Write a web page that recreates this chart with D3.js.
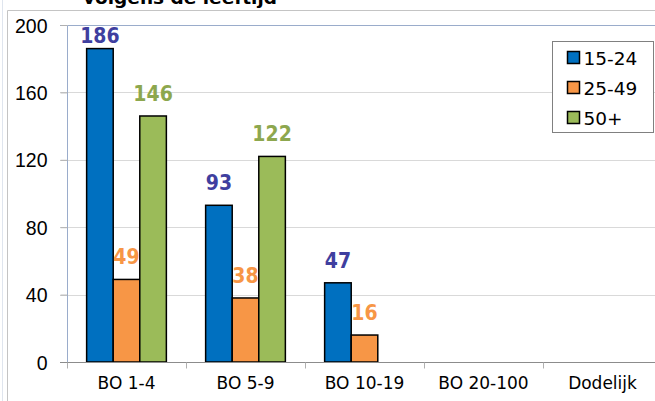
<!DOCTYPE html>
<html>
<head>
<meta charset="utf-8">
<script src="https://cdn.jsdelivr.net/npm/d3@7"></script>
<style>
  body { margin: 0; background: #fff; }
  svg { display: block; }
  .tick text { font-family: "Liberation Sans", Arial, sans-serif; }
</style>
</head>
<body>
<svg width="655" height="401"></svg>
<script>
// categories and series
var categories = ["BO 1-4", "BO 5-9", "BO 10-19", "BO 20-100", "Dodelijk"];
var seriesNames = ["15-24", "25-49", "50+"];
var age1524 = [186, 93, 47, null, null];
var age2549 = [49, 38, 16, null, null];
var age50 = [146, 122, null, null, null];
var yTicks = [0, 40, 80, 120, 160, 200];

var fills = ["#0070C0", "#F79646", "#9BBB59"];
var labelColours = ["#3F3F9F", "#F79646", "#8DA74E"];

var rows = categories.map(function(c, i) {
  return { cat: c, values: [age1524[i], age2549[i], age50[i]] };
});

var svg = d3.select("svg");

// chart frame
svg.append("line").attr("x1", 2.5).attr("x2", 2.5).attr("y1", 0).attr("y2", 401)
  .attr("stroke", "#dfe5ee");
svg.append("path").attr("d", "M7.5,401V10.5H655")
  .attr("fill", "none").attr("stroke", "#c4c4c4");

// title (mostly cut off at the top)
svg.append("text")
  .attr("x", 180).attr("y", 4)
  .attr("text-anchor", "middle")
  .style("font-family", "DejaVu Sans, sans-serif")
  .style("font-weight", "bold")
  .style("font-size", "18.5px")
  .text("volgens de leeftijd");

var pLeft = 67, pTop = 25, pRight = 662, pBottom = 362;

var x = d3.scaleBand().domain(categories).range([pLeft, pRight]);
var bw = x.bandwidth();
var x1 = d3.scaleBand().domain(seriesNames)
  .range([bw * 0.165, bw * 0.835]);
var y = d3.scaleLinear().domain([0, 200]).range([pBottom, pTop]);

// gridlines
svg.append("g").selectAll("line")
  .data(yTicks.filter(function(d) { return d > 0 && d < 200; }))
  .enter().append("line")
  .attr("x1", pLeft - 7).attr("x2", pRight)
  .attr("y1", function(d) { return Math.round(y(d)) + 0.5; })
  .attr("y2", function(d) { return Math.round(y(d)) + 0.5; })
  .attr("stroke", "#d9d9d9");

// plot area border (top / left)
svg.append("path")
  .attr("d", "M" + (pLeft - 7) + "," + (pTop + 0.5) + "H" + pLeft + "M" + (pLeft + 0.5) + "," + pBottom + "V" + (pTop + 0.5) + "H" + pRight)
  .attr("fill", "none").attr("stroke", "#9aaccb");

// y axis
var yAxis = svg.append("g")
  .attr("transform", "translate(" + (pLeft + 0.5) + ",0)")
  .call(d3.axisLeft(y).tickValues(yTicks).tickSize(7).tickPadding(13));
yAxis.select(".domain").remove();
yAxis.selectAll(".tick line").attr("stroke", "#b0b0b0");
yAxis.selectAll(".tick text")
  .style("font-size", "19.5px").attr("fill", "#000").attr("dy", "0.36em");

// bars
var groups = svg.append("g").selectAll("g")
  .data(rows).enter().append("g")
  .attr("transform", function(d) { return "translate(" + x(d.cat) + ",0)"; });

function present(d) {
  return d.values.map(function(v, i) { return { s: seriesNames[i], i: i, v: v }; })
    .filter(function(e) { return e.v != null; });
}

groups.selectAll("rect")
  .data(present)
  .enter().append("rect")
  .attr("x", function(d) { return x1(d.s); })
  .attr("y", function(d) { return y(d.v); })
  .attr("width", x1.bandwidth())
  .attr("height", function(d) { return pBottom - y(d.v); })
  .attr("fill", function(d) { return fills[d.i]; })
  .attr("stroke", "#000")
  .attr("stroke-width", 1.5);

groups.selectAll("text")
  .data(present)
  .enter().append("text")
  .attr("x", function(d) { return x1(d.s) + x1.bandwidth() / 2; })
  .attr("y", function(d) { return Math.max(y(d.v) - 15, 43); })
  .attr("text-anchor", "middle")
  .style("font-family", "DejaVu Sans Condensed, DejaVu Sans, sans-serif")
  .style("font-weight", "bold")
  .style("font-size", "21px")
  .attr("fill", function(d) { return labelColours[d.i]; })
  .text(function(d) { return d.v; });

// x axis
var xAxis = svg.append("g")
  .attr("transform", "translate(0," + (pBottom + 0.5) + ")")
  .call(d3.axisBottom(x).tickSize(0).tickPadding(14));
xAxis.select(".domain").attr("stroke", "#8c8c8c").attr("d", "M" + (pLeft - 7) + ",0H" + pRight);
xAxis.selectAll(".tick text")
  .style("font-family", "DejaVu Sans, sans-serif")
  .style("font-size", "17px").attr("fill", "#000");
xAxis.append("g").selectAll("line")
  .data(categories.concat([null]))
  .enter().append("line")
  .attr("x1", function(d, i) { return Math.round(pLeft + i * bw) + 0.5; })
  .attr("x2", function(d, i) { return Math.round(pLeft + i * bw) + 0.5; })
  .attr("y1", 0).attr("y2", 6)
  .attr("stroke", "#b0b0b0");

// legend
var legend = svg.append("g").attr("transform", "translate(552.5,41.5)");
legend.append("rect")
  .attr("width", 101).attr("height", 91)
  .attr("fill", "#fff").attr("stroke", "#808080");
var items = legend.selectAll(".item")
  .data(seriesNames).enter().append("g")
  .attr("transform", function(d, i) { return "translate(15," + (16 + i * 30) + ")"; });
items.append("rect")
  .attr("x", 0).attr("y", -6).attr("width", 12).attr("height", 12)
  .attr("fill", function(d, i) { return fills[i]; })
  .attr("stroke", "#000").attr("stroke-width", 1.5);
items.append("text")
  .attr("x", 16).attr("y", 7)
  .style("font-family", "DejaVu Sans, sans-serif")
  .style("font-size", "18.5px")
  .text(function(d) { return d; });
</script>
</body>
</html>
